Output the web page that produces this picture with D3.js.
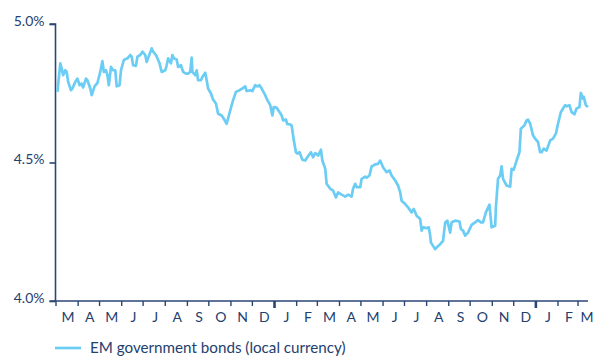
<!DOCTYPE html>
<html>
<head>
<meta charset="utf-8">
<script src="https://cdn.jsdelivr.net/npm/d3@7/dist/d3.min.js"></script>
<style>
  html, body { margin: 0; padding: 0; background: #ffffff; }
  svg { display: block; }
  text { font-family: "Lato", "Open Sans", sans-serif; fill: #23406e; }
</style>
</head>
<body>
<svg id="chart" width="602" height="358"></svg>
<script>
// ---- Data ----
const seriesName = "EM government bonds (local currency)";
const dates = [
  "2023-03-03","2023-03-07","2023-03-09","2023-03-11","2023-03-14","2023-03-16","2023-03-18","2023-03-22","2023-03-24","2023-03-28",
  "2023-03-31","2023-04-03","2023-04-06","2023-04-08","2023-04-12","2023-04-14","2023-04-18","2023-04-20","2023-04-24","2023-04-28",
  "2023-05-02","2023-05-05","2023-05-07","2023-05-10","2023-05-12","2023-05-14","2023-05-17","2023-05-20","2023-05-23","2023-05-25",
  "2023-05-29","2023-05-31","2023-06-04","2023-06-09","2023-06-13","2023-06-15","2023-06-17","2023-06-21","2023-06-23","2023-06-27",
  "2023-06-30","2023-07-04","2023-07-06","2023-07-09","2023-07-13","2023-07-15","2023-07-19","2023-07-24","2023-07-27","2023-08-01",
  "2023-08-03","2023-08-05","2023-08-09","2023-08-11","2023-08-13","2023-08-17","2023-08-19","2023-08-23","2023-08-26","2023-08-30",
  "2023-09-02","2023-09-05","2023-09-07","2023-09-08","2023-09-12","2023-09-14","2023-09-16","2023-09-20","2023-09-22","2023-09-26",
  "2023-09-28","2023-09-30","2023-10-04","2023-10-07","2023-10-11","2023-10-14","2023-10-19","2023-10-22","2023-10-26","2023-10-31",
  "2023-11-04","2023-11-08","2023-11-13","2023-11-17","2023-11-21","2023-11-23","2023-11-28","2023-12-01","2023-12-05","2023-12-08",
  "2023-12-11","2023-12-14","2023-12-19","2023-12-22","2023-12-26","2023-12-29","2023-12-31","2024-01-04","2024-01-08","2024-01-11",
  "2024-01-13","2024-01-17","2024-01-19","2024-01-22","2024-01-25","2024-01-28","2024-01-31","2024-02-02","2024-02-05","2024-02-09",
  "2024-02-13","2024-02-16","2024-02-21","2024-02-24","2024-02-27","2024-03-02","2024-03-06","2024-03-08","2024-03-12","2024-03-14",
  "2024-03-19","2024-03-23","2024-03-27","2024-03-30","2024-04-04","2024-04-09","2024-04-13","2024-04-18","2024-04-20","2024-04-23",
  "2024-04-25","2024-04-30","2024-05-02","2024-05-07","2024-05-09","2024-05-13","2024-05-16","2024-05-21","2024-05-25","2024-05-28",
  "2024-06-01","2024-06-06","2024-06-10","2024-06-13","2024-06-18","2024-06-22","2024-06-25","2024-06-27","2024-07-02","2024-07-06",
  "2024-07-11","2024-07-14","2024-07-18","2024-07-23","2024-07-25","2024-07-27","2024-08-01","2024-08-04","2024-08-06","2024-08-07",
  "2024-08-10","2024-08-13","2024-08-16","2024-08-20","2024-08-24","2024-08-27","2024-08-30","2024-09-03","2024-09-05","2024-09-10",
  "2024-09-16","2024-09-18","2024-09-21","2024-09-24","2024-09-28","2024-10-03","2024-10-08","2024-10-12","2024-10-16","2024-10-19",
  "2024-10-23","2024-10-28","2024-10-31","2024-11-05","2024-11-06","2024-11-09","2024-11-12","2024-11-14","2024-11-16","2024-11-21",
  "2024-11-26","2024-11-28","2024-12-01","2024-12-05","2024-12-09","2024-12-11","2024-12-16","2024-12-19","2024-12-21","2024-12-24",
  "2024-12-28","2024-12-31","2025-01-04","2025-01-07","2025-01-09","2025-01-12","2025-01-16","2025-01-21","2025-01-25","2025-01-29",
  "2025-02-01","2025-02-05","2025-02-08","2025-02-11","2025-02-13","2025-02-17","2025-02-20","2025-02-24","2025-02-27","2025-03-03",
  "2025-03-05","2025-03-08","2025-03-09","2025-03-12","2025-03-15"
];
const yields = [
  4.755,4.858,4.839,4.815,4.833,4.827,4.791,4.761,4.767,4.791,
  4.803,4.779,4.785,4.771,4.803,4.797,4.767,4.743,4.775,4.787,
  4.827,4.866,4.827,4.833,4.815,4.779,4.845,4.833,4.833,4.775,
  4.779,4.833,4.870,4.876,4.888,4.882,4.851,4.849,4.882,4.888,
  4.900,4.888,4.863,4.884,4.912,4.900,4.888,4.858,4.827,4.833,
  4.851,4.876,4.858,4.888,4.876,4.872,4.845,4.851,4.827,4.821,
  4.821,4.827,4.879,4.827,4.815,4.833,4.797,4.797,4.809,4.824,
  4.797,4.767,4.749,4.727,4.713,4.676,4.670,4.658,4.640,4.688,
  4.725,4.755,4.761,4.767,4.775,4.758,4.761,4.758,4.779,4.775,
  4.779,4.767,4.743,4.725,4.707,4.670,4.700,4.698,4.682,4.670,
  4.652,4.655,4.638,4.638,4.634,4.580,4.537,4.532,4.537,4.510,
  4.507,4.519,4.537,4.519,4.534,4.525,4.546,4.507,4.478,4.423,
  4.405,4.399,4.374,4.392,4.384,4.377,4.384,4.377,4.405,4.423,
  4.411,4.411,4.441,4.449,4.445,4.453,4.486,4.493,4.495,4.507,
  4.483,4.465,4.471,4.453,4.435,4.417,4.392,4.362,4.350,4.338,
  4.320,4.332,4.308,4.296,4.254,4.266,4.263,4.266,4.236,4.211,
  4.199,4.187,4.196,4.205,4.217,4.283,4.290,4.247,4.284,4.290,
  4.287,4.260,4.254,4.236,4.247,4.275,4.284,4.292,4.284,4.284,
  4.320,4.348,4.266,4.272,4.338,4.441,4.453,4.486,4.441,4.417,
  4.413,4.477,4.474,4.507,4.537,4.622,4.634,4.652,4.655,4.640,
  4.598,4.586,4.574,4.537,4.537,4.550,4.543,4.580,4.586,4.604,
  4.640,4.682,4.695,4.707,4.703,4.707,4.682,4.674,4.695,4.700,
  4.751,4.731,4.737,4.707,4.700
];
const yTicks = [4.0, 4.5, 5.0];
const monthLabels = ["M","A","M","J","J","A","S","O","N","D","J","F","M","A","M","J","J","A","S","O","N","D","J","F","M"];
const xStart = "2023-03-01";
const xEnd = "2025-03-15";

// ---- Chart ----
const parse = d3.utcParse("%Y-%m-%d");
const data = dates.map((d, i) => ({ date: parse(d), value: yields[i] }));

const svg = d3.select("#chart");
const axisColor = "#2a4673";
const textColor = "#24437a";
const lineColor = "#6ccdf4";

const x = d3.scaleUtc().domain([parse(xStart), parse(xEnd)]).range([56, 588]);
const y = d3.scaleLinear().domain([4.0, 5.0]).range([301, 24]);

// Y axis
const yAxis = svg.append("g").attr("transform", "translate(55.5,0)")
  .call(d3.axisLeft(y).tickValues(yTicks).tickSize(6).tickPadding(5)
    .tickFormat(d => d3.format(".1f")(d) + "%"));
yAxis.select(".domain").attr("stroke", axisColor).attr("stroke-width", 1.6).attr("d", `M-6,${y(5.0)}H0V${y(4.0)}`);
yAxis.selectAll(".tick line").attr("stroke", axisColor).attr("stroke-width", 1.6);
yAxis.selectAll(".tick text").style("font-size", "14px").attr("fill", textColor)
  .attr("font-family", "Lato, 'Open Sans', sans-serif").attr("dy", "0.1em");

// X axis
const monthStarts = d3.utcMonth.range(parse(xStart), parse(xEnd));
const xAxisG = svg.append("g").attr("transform", `translate(0,${y(4.0)})`);
xAxisG.append("line").attr("x1", 49.5).attr("x2", 588).attr("y1", 0).attr("y2", 0)
  .attr("stroke", axisColor).attr("stroke-width", 1.6);
xAxisG.selectAll("line.tick").data(monthStarts).enter().append("line")
  .attr("class", "tick")
  .attr("x1", d => x(d)).attr("x2", d => x(d))
  .attr("y1", 0).attr("y2", d => d.getUTCMonth() === 0 ? 7 : 5)
  .attr("stroke", axisColor)
  .attr("stroke-width", d => d.getUTCMonth() === 0 ? 2.6 : 1.4);
xAxisG.selectAll("text.mlabel").data(monthStarts).enter().append("text")
  .attr("class", "mlabel")
  .attr("x", (d, i) => {
    const next = d3.utcMonth.offset(d, 1);
    return i === monthStarts.length - 1 ? x(d) + 9 : (x(d) + x(next)) / 2 + 1;
  })
  .attr("y", 21)
  .attr("text-anchor", "middle")
  .style("font-size", "14px")
  .attr("fill", textColor)
  .text((d, i) => monthLabels[i]);

// Line
const line = d3.line().x(d => x(d.date)).y(d => y(d.value)).curve(d3.curveLinear);
svg.append("path").datum(data)
  .attr("fill", "none").attr("stroke", lineColor).attr("stroke-width", 2.7)
  .attr("stroke-linejoin", "round").attr("d", line);

// Legend
const lg = svg.append("g").attr("transform", "translate(55,348)");
lg.append("line").attr("x1", 0).attr("x2", 26).attr("y1", 0).attr("y2", 0)
  .attr("stroke", lineColor).attr("stroke-width", 2.7);
lg.append("text").attr("x", 35).attr("y", 0).attr("dy", "0.35em")
  .style("font-size", "15.2px").attr("fill", textColor).text(seriesName);
</script>
</body>
</html>
